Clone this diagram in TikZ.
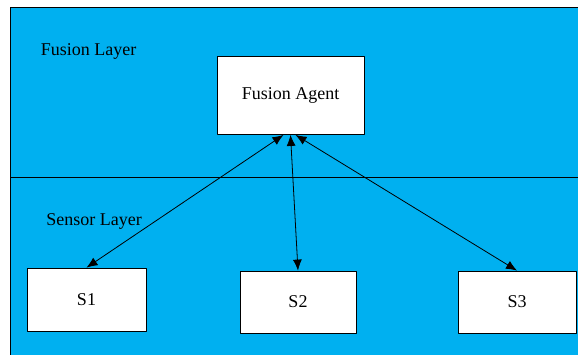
\documentclass[tikz,border=0pt]{standalone}
\usepackage{fontspec}
\setmainfont{Liberation Serif}
\usetikzlibrary{arrows.meta}
\definecolor{layerblue}{RGB}{0,176,240}
\tikzset{
  box/.style={draw, fill=white, inner sep=0pt},
  link/.style={<->, >={Latex[length=11pt,width=9pt]}}
}
\begin{document}
\begin{tikzpicture}[x=1pt, y=-1pt, font=\fontsize{18}{20}\selectfont, line join=round, line width=0.8pt]
		\useasboundingbox (0,0) rectangle (578,354);
		\fill[white] (0,0) rectangle (578,354);
		% layers
		\draw[fill=layerblue] (10.5,7.5) rectangle (582,358);
		\draw[thick] (10.5,177.5) -- (582,177.5);
		\node[anchor=base west, inner sep=0pt] (fuslayer) at (40.5,55) {Fusion Layer};
		\node[anchor=base west, inner sep=0pt] (senlayer) at (46,225) {Sensor Layer};
		% agent and sensors
		\node[box, minimum width=147pt, minimum height=78pt] (agent) at (290.5,95.5) {Fusion Agent};
		\node[box, minimum width=119pt, minimum height=63pt] (s1) at (86.5,299.5) {S1};
		\node[box, minimum width=116pt, minimum height=62pt] (s2) at (298,302) {S2};
		\node[box, minimum width=118pt, minimum height=62pt] (s3) at (517,302) {S3};
		\foreach \t/\x in {s1/-7,s2/0,s3/5}
			\draw[link] ([xshift=\x pt]agent.south) -- (\t.north);
	\end{tikzpicture}
\end{document}
